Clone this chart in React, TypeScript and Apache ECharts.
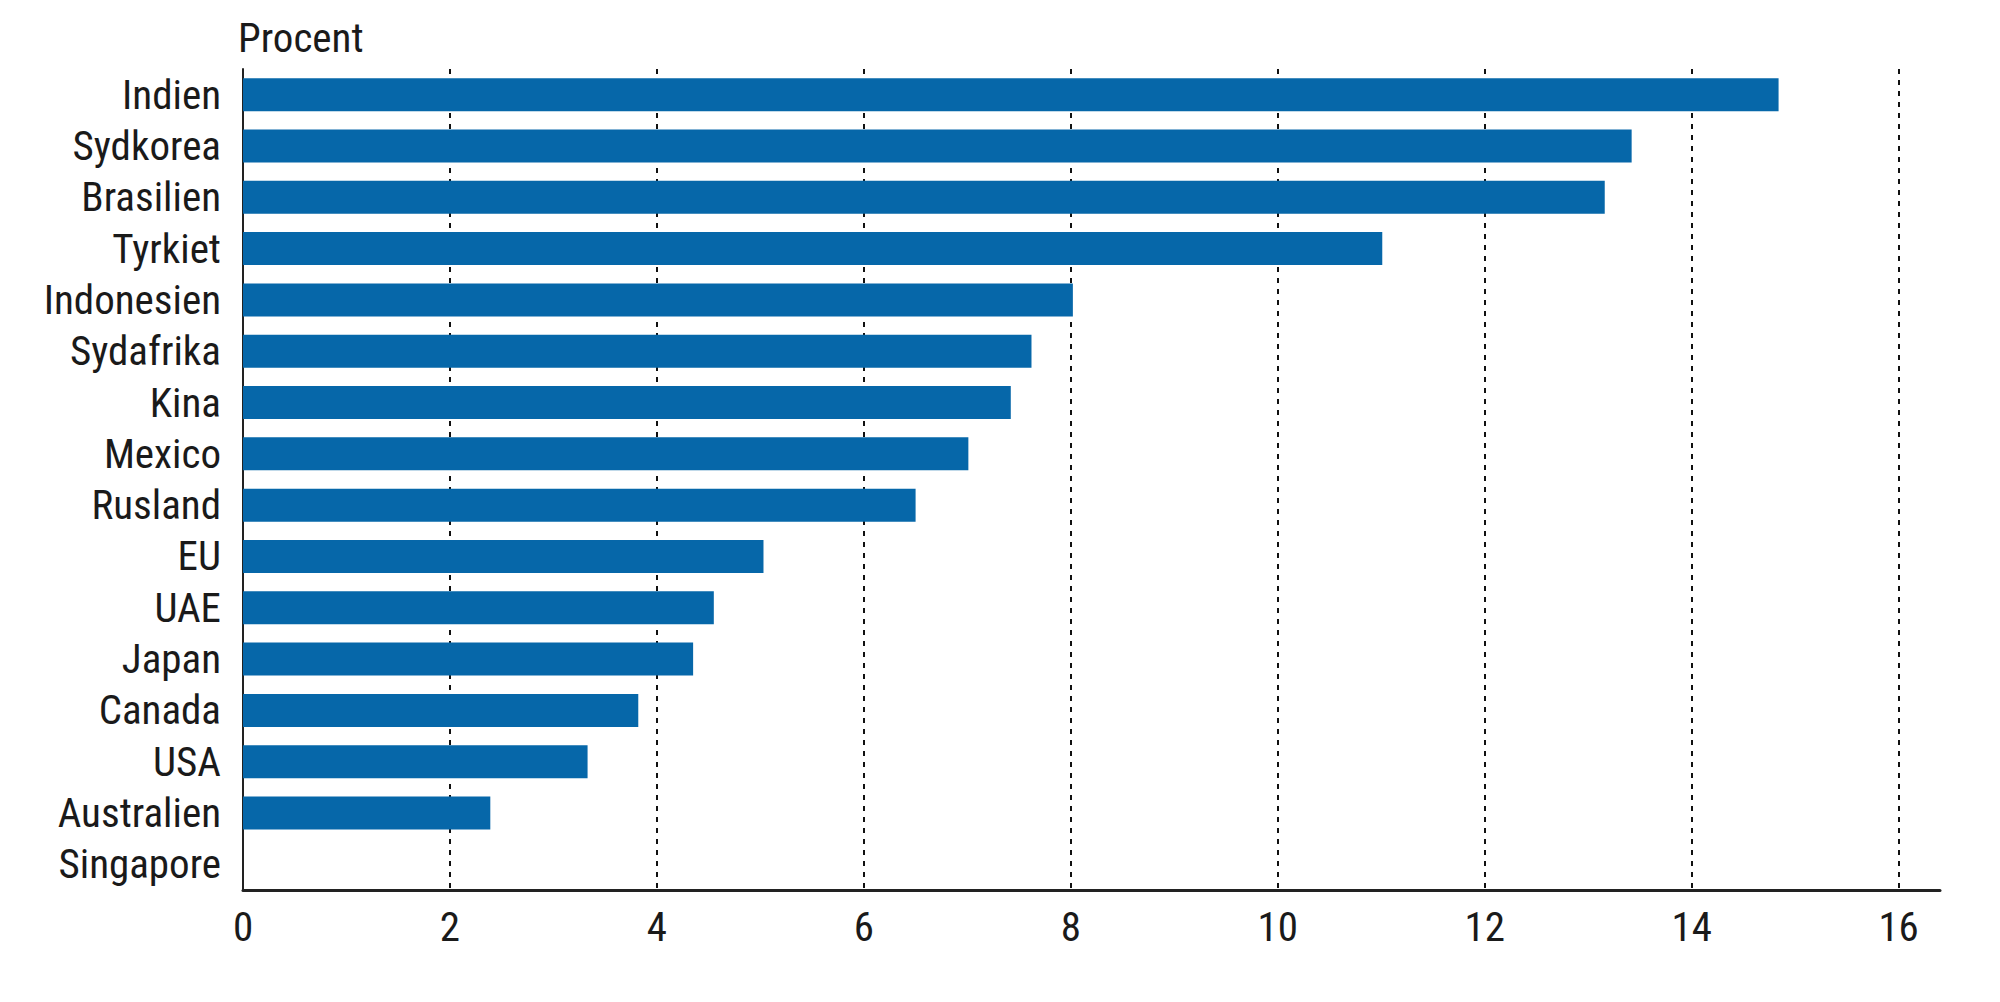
import * as echarts from 'echarts';
import { useEffect, useRef } from 'react';

const countries = [
  'Indien',
  'Sydkorea',
  'Brasilien',
  'Tyrkiet',
  'Indonesien',
  'Sydafrika',
  'Kina',
  'Mexico',
  'Rusland',
  'EU',
  'UAE',
  'Japan',
  'Canada',
  'USA',
  'Australien',
  'Singapore',
];

const values = [
  14.84, 13.42, 13.16, 11.01, 8.02, 7.62, 7.42, 7.01, 6.5, 5.03, 4.55, 4.35,
  3.82, 3.33, 2.39, 0,
];

const gridTicks = [2, 4, 6, 8, 10, 12, 14, 16];

const FONT =
  '"Roboto Condensed", "Liberation Sans Narrow", "DejaVu Sans Condensed", Roboto, sans-serif';

function App() {
  const chartRef = useRef(null);

  useEffect(() => {
    document.body.style.margin = '0';
    const myChart = echarts.init(chartRef.current, null, { renderer: 'svg' });

    const option = {
      animation: false,
      grid: {
        left: 243,
        right: 60,
        top: 69,
        bottom: 112,
      },
      graphic: [
        {
          type: 'text',
          left: 238,
          top: 17,
          style: {
            text: 'Procent',
            fontSize: 41,
            fontFamily: FONT,
            fill: '#1a1a1a',
          },
        },
      ],
      xAxis: {
        type: 'value',
        min: 0,
        max: 16.4,
        interval: 2,
        axisLine: {
          show: true,
          lineStyle: { color: '#222', width: 3 },
        },
        axisTick: { show: false },
        splitLine: { show: false },
        axisLabel: {
          showMaxLabel: false,
          margin: 16,
          fontSize: 41,
          fontFamily: FONT,
          color: '#1a1a1a',
          formatter: (v: number) => (v % 2 === 0 ? String(v) : ''),
        },
      },
      yAxis: {
        type: 'category',
        data: countries,
        inverse: true,
        axisLine: {
          show: true,
          lineStyle: { color: '#222', width: 2 },
        },
        axisTick: { show: false },
        axisLabel: {
          interval: 0,
          margin: 22,
          fontSize: 41,
          fontFamily: FONT,
          color: '#1a1a1a',
        },
      },
      series: [
        {
          type: 'bar',
          data: values,
          barWidth: 33,
          itemStyle: { color: '#0667a9' },
          markLine: {
            silent: true,
            symbol: 'none',
            label: { show: false },
            lineStyle: { color: '#111', type: [5, 6], width: 2 },
            data: gridTicks.map((t) => ({ xAxis: t })),
            z: 1,
          },
          z: 2,
        },
      ],
    };

    myChart.setOption(option);

    return () => {
      myChart.dispose();
    };
  }, []);

  return <div ref={chartRef} style={{ width: '2000px', height: '1002px' }}></div>;
}

export default App;
